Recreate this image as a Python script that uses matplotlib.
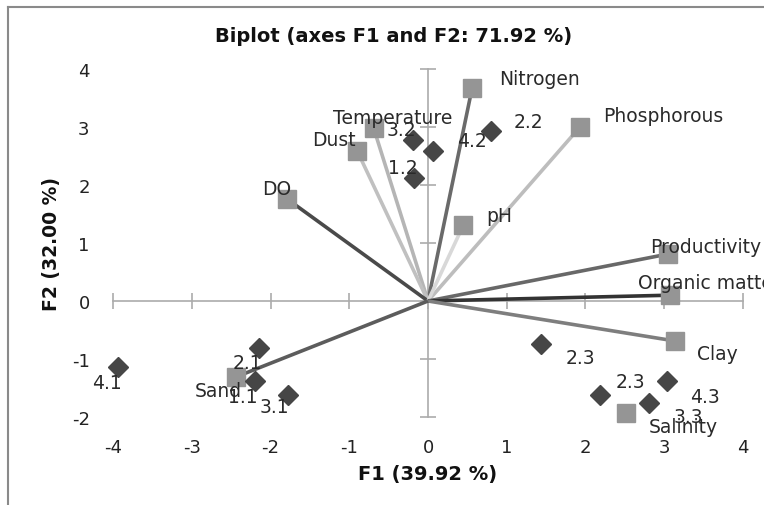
import numpy as np
import matplotlib
matplotlib.use("Agg")
import matplotlib.pyplot as plt
from matplotlib.lines import Line2D

plt.rcParams["axes.unicode_minus"] = False

# variables (F1, F2 coordinates)
var_names = ["Nitrogen", "Phosphorous", "Temperature", "Dust", "DO", "pH",
             "Productivity", "Organic matter", "Clay", "Salinity", "Sand"]
var_f1 = [0.56, 1.93, -0.69, -0.90, -1.79, 0.45, 3.05, 3.07, 3.14, 2.52, -2.44]
var_f2 = [3.67, 3.00, 2.98, 2.59, 1.76, 1.31, 0.81, 0.10, -0.69, -1.93, -1.31]

# observations
obs_names = ["3.2", "4.2", "2.2", "1.2", "2.1", "1.1", "3.1", "4.1",
             "2.3", "2.3", "4.3", "3.3"]
obs_f1 = [-0.19, 0.06, 0.80, -0.18, -2.15, -2.20, -1.78, -3.94,
          1.44, 2.18, 3.03, 2.81]
obs_f2 = [2.78, 2.59, 2.93, 2.12, -0.81, -1.38, -1.62, -1.14,
          -0.74, -1.62, -1.38, -1.76]

xticks = [-4, -3, -2, -1, 0, 1, 2, 3, 4]
yticks = [-2, -1, 0, 1, 2, 3, 4]

# line colour per variable (None = no line drawn)
line_cols = ["#6a6a6a", "#bdbdbd", "#b5b5b5", "#c0c0c0", "#4a4a4a", "#d8d8d8",
             "#686868", "#333333", "#7e7e7e", None, "#5c5c5c"]

# label offsets in pixels (dx, dy up), left aligned, vertically centred
var_off = [(27, 10), (23, 11), (-41, 11), (-45, 11), (-25, 10), (23, 10),
           (-18, 8), (-32, 13), (22, -12), (22, -14), (-41, -14)]
obs_off = [(-26, 10), (24, 10), (23, 10), (-26, 11), (-26, -15), (-27, -15),
           (-28, -12), (-26, -15), (24, -14), (16, 13), (23, -15), (24, -13)]

fig = plt.figure(figsize=(7.64, 5.06), dpi=100)
ax = fig.add_axes([98 / 764, 1 - 428 / 506, 660 / 764, 368 / 506])
px = 72 / 100  # pixels -> points

ax.set_xlim(-4 - 15 / 78.6, 4 + 15 / 78.6)
ax.set_ylim(-2 - 10 / 58, 4 + 10 / 58)
for s in ax.spines.values():
    s.set_visible(False)

# cross axes through the origin
axcol = "#ababab"
ax.plot([xticks[0], xticks[-1]], [0, 0], color=axcol, lw=1.2, zorder=1)
ax.plot([0, 0], [yticks[0], yticks[-1]], color=axcol, lw=1.2, zorder=1)
ax.plot(xticks, [0] * len(xticks), ls="none", marker="|", ms=16 * px,
        mew=1.2, color=axcol, zorder=1)
ax.plot([0] * len(yticks), yticks, ls="none", marker="_", ms=16 * px,
        mew=1.2, color=axcol, zorder=1)

ax.set_xticks(xticks)
ax.set_yticks(yticks)
ax.tick_params(length=0, labelsize=13, colors="#222222")
ax.tick_params(axis="x", pad=8)
ax.tick_params(axis="y", pad=6)

for x, y, c in zip(var_f1, var_f2, line_cols):
    if c is not None:
        ax.plot([0, x], [0, y], color=c, lw=2.6, zorder=2,
                solid_capstyle="butt")

ax.plot(var_f1, var_f2, ls="none", marker="s", ms=13, color="#959595",
        zorder=3)
ax.plot(obs_f1, obs_f2, ls="none", marker="D", ms=10.5, color="#464646",
        zorder=3)

for n, x, y, (dx, dy) in zip(var_names, var_f1, var_f2, var_off):
    ax.annotate(n, (x, y), xytext=(dx * px, dy * px),
                textcoords="offset points", ha="left", va="center",
                fontsize=13.5, color="#2a2a2a", zorder=5, annotation_clip=False)
for n, x, y, (dx, dy) in zip(obs_names, obs_f1, obs_f2, obs_off):
    ax.annotate(n, (x, y), xytext=(dx * px, dy * px),
                textcoords="offset points", ha="left", va="center",
                fontsize=13.5, color="#2a2a2a", zorder=5, annotation_clip=False)

fig.text(394 / 764, 1 - 37 / 506, "Biplot (axes F1 and F2: 71.92 %)",
         ha="center", va="center", fontsize=14, fontweight="bold",
         color="#111111")
fig.text(428 / 764, 1 - 475 / 506, "F1 (39.92 %)", ha="center",
         va="center", fontsize=14, fontweight="bold", color="#111111")
fig.text(52 / 764, 1 - 244 / 506, "F2 (32.00 %)", ha="center",
         va="center", rotation=90, fontsize=13.5, fontweight="bold",
         color="#111111")

# chart frame (left and top edges visible)
fig.add_artist(Line2D([8 / 764, 8 / 764], [0, 1 - 8 / 506],
                      color="#8a8a8a", lw=1.5))
fig.add_artist(Line2D([8 / 764, 1], [1 - 8 / 506, 1 - 8 / 506],
                      color="#8a8a8a", lw=1.5))

fig.savefig("out.png", dpi=100)
